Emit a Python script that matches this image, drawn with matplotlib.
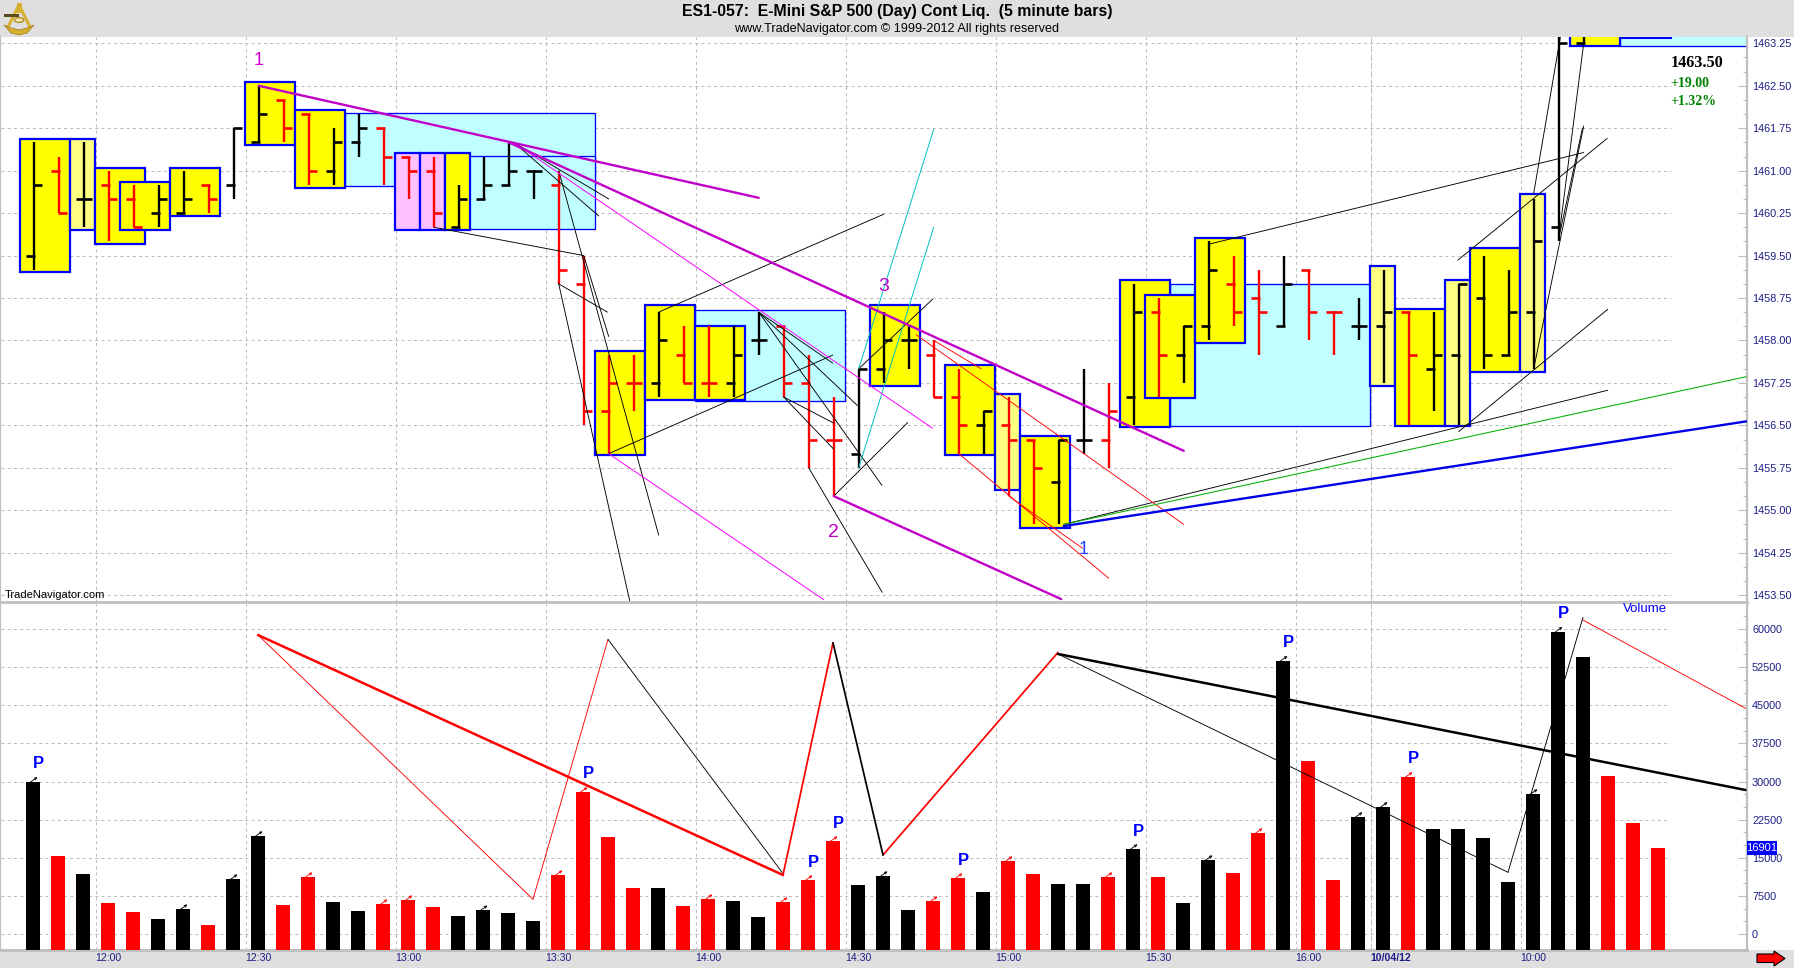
import matplotlib
matplotlib.use('Agg')
import matplotlib.pyplot as plt
from matplotlib.lines import Line2D
from matplotlib.patches import Rectangle, Polygon, Circle

plt.rcParams['font.family'] = ['Liberation Sans', 'DejaVu Sans']

W, H = 1794, 968

# 5 minute bars, the last ones run off the top of the chart
bar_high = [1461.5, 1461.25, 1461.5, 1461.0, 1460.75, 1460.75, 1461.0, 1460.75, 1461.75, 1462.5,
            1462.25, 1462.0, 1461.75, 1462.0, 1461.75, 1461.25, 1461.25, 1460.75, 1461.25, 1461.5,
            1461.0, 1461.0, 1459.5, 1457.75, 1457.75, 1458.5, 1458.25, 1458.25, 1458.25, 1458.5,
            1458.25, 1457.75, 1457.0, 1457.5, 1458.5, 1458.25, 1458.0, 1457.5, 1456.75, 1457.0,
            1456.25, 1456.25, 1457.5, 1457.25, 1459.0, 1458.75, 1458.25, 1459.75, 1459.5, 1459.25,
            1459.5, 1459.25, 1458.5, 1458.75, 1459.25, 1458.5, 1458.5, 1459.0, 1459.5, 1459.25,
            1460.5, 1464.0, 1463.75]
bar_low = [1459.25, 1460.25, 1460.0, 1459.75, 1460.0, 1460.0, 1460.25, 1460.25, 1460.5, 1461.5,
           1461.5, 1460.75, 1460.75, 1461.25, 1460.75, 1460.5, 1460.0, 1460.0, 1460.5, 1460.75,
           1460.5, 1459.0, 1456.5, 1456.0, 1456.75, 1457.0, 1457.25, 1457.0, 1457.0, 1457.75,
           1457.0, 1455.75, 1455.25, 1455.75, 1457.25, 1457.5, 1457.0, 1456.0, 1456.0, 1455.25,
           1454.75, 1454.75, 1456.0, 1455.75, 1456.5, 1457.0, 1457.25, 1458.0, 1458.25, 1457.75,
           1458.25, 1458.0, 1457.75, 1458.0, 1457.25, 1456.5, 1456.75, 1456.5, 1457.5, 1457.75,
           1457.5, 1459.75, 1463.25]
bar_open = [1459.5, 1461.0, 1460.5, 1460.75, 1460.5, 1460.25, 1460.25, 1460.75, 1460.75, 1461.5,
            1462.25, 1462.0, 1461.0, 1461.5, 1461.75, 1461.25, 1461.0, 1460.0, 1460.5, 1460.75,
            1461.0, 1460.75, 1459.0, 1456.75, 1457.25, 1457.25, 1457.75, 1457.25, 1457.25, 1458.0,
            1458.25, 1457.25, 1456.25, 1456.0, 1457.5, 1458.0, 1457.75, 1457.0, 1456.5, 1456.5,
            1456.25, 1455.5, 1456.25, 1456.25, 1457.0, 1458.5, 1457.75, 1458.25, 1459.0, 1458.75,
            1458.25, 1459.25, 1458.5, 1458.25, 1458.25, 1458.5, 1457.5, 1457.75, 1458.75, 1457.75,
            1458.5, 1460.0, 1463.25]
bar_close = [1460.75, 1460.25, 1460.5, 1460.5, 1460.0, 1460.5, 1460.5, 1460.5, 1461.75, 1462.0,
             1461.75, 1461.0, 1461.5, 1461.75, 1461.25, 1461.0, 1460.25, 1460.5, 1460.75, 1461.0,
             1461.0, 1459.25, 1456.75, 1457.25, 1457.25, 1458.0, 1457.25, 1457.25, 1457.75, 1458.0,
             1457.25, 1456.25, 1456.25, 1457.5, 1458.0, 1458.0, 1457.0, 1456.5, 1456.75, 1456.25,
             1455.75, 1456.25, 1456.25, 1456.75, 1458.5, 1457.75, 1458.25, 1459.25, 1458.5, 1458.5,
             1459.0, 1458.5, 1458.5, 1458.25, 1458.5, 1457.75, 1457.75, 1459.0, 1457.75, 1458.5,
             1459.75, 1463.25, 1463.5]

# volume has three more bars than can be seen in the price panel
volume = [29900, 15300, 11760, 6040, 4270, 2890, 4860, 1710, 10770, 19250, 5650, 11170, 6240, 4470,
          5850, 6640, 5260, 3480, 4660, 4070, 2500, 11560, 27920, 19050, 9000, 9000, 5450, 6830,
          6440, 3280, 6240, 10580, 18260, 9590, 11370, 4660, 6440, 10970, 8210, 14320, 11760, 9790,
          9790, 11170, 16690, 11170, 6040, 14520, 11960, 19840, 53740, 34030, 10580, 22990, 24970,
          30880, 20630, 20630, 18860, 10180, 27530, 59460, 54530, 31080, 21810, 16901]
bar_colors = list('krkrrkkrkkrrkkrrrkkkkrrrrkrrkkrrrkkkrrkrrkkrkrkkrrkrrkkrkkkkkkkrrr')

peak_bars = [0, 22, 31, 32, 37, 44, 50, 55, 61]
arrow_bars = [0, 6, 8, 9, 11, 14, 15, 18, 21, 22, 27, 30, 31, 32, 34, 36, 37, 39, 43, 44, 47, 49,
              50, 53, 54, 55, 60, 61]

# boxes: left, right, top, bottom, fill code
cyan = '#C0FFFF'
box_left = [12.45, 14.45, 26.45, 45.45, 63.45, -0.55, 1.45, 2.45, 3.45, 5.45, 8.45, 10.45, 14.45, 15.45,
            16.45, 22.45, 24.45, 26.45, 33.45, 36.45, 38.45, 39.45, 43.45, 44.45, 46.45, 53.45,
            54.45, 56.45, 57.45, 59.45, 61.45]
box_right = [22.45, 22.45, 32.45, 53.45, 72.0, 1.45, 2.45, 4.45, 5.45, 7.45, 10.45, 12.45, 15.45, 16.45,
             17.45, 24.45, 26.45, 28.45, 35.45, 38.45, 39.45, 41.45, 45.45, 46.45, 48.45, 54.45,
             56.45, 57.45, 59.45, 60.45, 63.45]
box_top = [1462.02, 1461.25, 1458.54, 1459.0, 1464.0, 1461.56, 1461.56, 1461.05, 1460.8, 1461.05, 1462.57,
           1462.07, 1461.31, 1461.31, 1461.31, 1457.81, 1458.62, 1458.26, 1458.62, 1457.57, 1457.06,
           1456.31, 1459.06, 1458.8, 1459.81, 1459.32, 1458.56, 1459.06, 1459.63, 1460.58, 1464.0]
box_bottom = [1460.72, 1459.97, 1456.93, 1456.49, 1463.2, 1459.21, 1459.95, 1459.7, 1459.95, 1460.2, 1461.45,
              1460.7, 1459.95, 1459.95, 1459.95, 1455.97, 1456.95, 1456.95, 1457.2, 1455.97, 1455.35,
              1454.68, 1456.47, 1456.98, 1457.96, 1457.2, 1456.49, 1456.49, 1457.45, 1457.45, 1463.2]
box_fill = ['c', 'c', 'c', 'c', 'c', 'y', 'p', 'y', 'y', 'y', 'y', 'y', 'm', 'm', 'y', 'y', 'y', 'y', 'y',
            'y', 'p', 'y', 'y', 'y', 'y', 'p', 'y', 'p', 'y', 'p', 'y']
fill_colors = {'c': cyan, 'y': '#FFFF00', 'p': '#FFFF80', 'm': '#FFC0FF'}

# trend lines in the price panel: bar, price, bar, price
purple_lines = [(9, 1462.5, 29, 1460.52), (19, 1461.5, 46, 1456.05), (32, 1455.25, 41.1, 1453.43)]
magenta_lines = [(19.2, 1461.5, 35.95, 1456.45), (23, 1456.0, 31.6, 1453.42)]
cyan_lines = [(33, 1455.75, 36, 1460.0), (33, 1457.5, 36, 1461.73)]
red_lines = [(35.3, 1458.1, 46, 1454.75), (36, 1458.0, 37.9, 1457.5), (37, 1456.0, 43, 1453.8),
             (39, 1455.25, 41.95, 1454.33)]
black_lines = [(19.2, 1461.5, 23, 1460.5), (19.2, 1461.5, 22.6, 1460.2), (21, 1461.0, 25, 1454.56),
               (21, 1459.0, 22.95, 1458.5), (21, 1459.0, 23.84, 1453.4), (22, 1459.5, 23, 1458.07),
               (16, 1460.0, 22, 1459.5), (23, 1456.0, 31.96, 1457.74), (25, 1458.5, 34, 1460.23),
               (29, 1458.5, 31.96, 1457.6), (29, 1458.5, 32.95, 1456.85), (29, 1458.5, 33.93, 1455.44),
               (30, 1457.0, 32, 1456.54), (30, 1457.0, 32, 1456.08), (31, 1455.75, 33.94, 1453.55),
               (32, 1455.25, 34.96, 1456.55), (33, 1457.5, 35.96, 1458.73),
               (41.2, 1454.75, 62.96, 1457.12), (57, 1456.39, 62.96, 1458.55), (47, 1459.7, 62, 1461.32),
               (56.97, 1459.42, 62.94, 1461.57), (60, 1457.5, 62, 1461.79), (60, 1460.6, 61.1, 1463.45),
               (61, 1459.8, 62, 1463.25), (61, 1459.8, 61.95, 1461.75)]
blue_line = (41.2, 1454.72, 68.5, 1456.57)
green_line = (41.2, 1454.75, 68.5, 1457.36)

# zigzags in the volume panel
vol_red_thick = [(9, 58820, 30, 11600)]
vol_black_thick = [(41, 55090, 68.5, 28330)]
vol_red_mid = [(30, 11600, 32, 57300), (34, 15540, 41, 55400)]
vol_black_mid = [(32, 57300, 34, 15540)]
vol_red_thin = [(9, 58820, 20, 6830), (20, 6830, 23, 57960), (62, 61770, 68.5, 44400)]
vol_black_thin = [(23, 57960, 30, 11900), (41, 55090, 59, 12140), (59, 12140, 62, 62300)]

time_ticks = [2.5, 8.5, 14.5, 20.5, 26.5, 32.5, 38.5, 44.5, 50.5, 53.5, 59.5]
time_labels = ['12:00', '12:30', '13:00', '13:30', '14:00', '14:30', '15:00', '15:30', '16:00',
               '10/04/12', '10:00']
price_ticks = [1453.5 + 0.75 * n for n in range(14)]
price_minor = [1453.5 + 0.25 * n for n in range(40)]
vol_ticks = [7500 * n for n in range(9)]
vol_minor = [2500 * n for n in range(26)]

axis_blue = '#1C1C86'
grid_gray = '#BEBEBE'
purple = '#C000C8'
GRID_END = 65.48


def fx(px):
    return px / W


def fy(py):
    return 1 - py / H


def panel(top, bottom):
    return [0, 1 - bottom / H, 1746.5 / W, (bottom - top) / H]


def draw_segments(ax, segs, color, lw):
    for x0, y0, x1, y1 in segs:
        ax.plot([x0, x1], [y0, y1], color=color, lw=lw, zorder=5, solid_capstyle='round')


fig = plt.figure(figsize=(W / 100, H / 100), dpi=100, facecolor='white')

# header and footer strips, kept behind the axes so the time labels stay visible
fig.add_artist(Rectangle((0, fy(37)), 1, 37 / H, transform=fig.transFigure, color='#DFDFDF', lw=0, zorder=-1))
fig.add_artist(Rectangle((0, 0), 1, (H - 950) / H, transform=fig.transFigure, color='#DFDFDF', lw=0, zorder=-1))

ax = fig.add_axes(panel(37, 602))
ax2 = fig.add_axes(panel(604, 950))
ax.set_xlim(-33.7 / 25, (1746.5 - 33.7) / 25)
ax.set_ylim(1463.25 - (602 - 43.3) / 56.6, 1463.25 + (43.3 - 37) / 56.6)
ax2.set_xlim(-33 / 25, (1746.5 - 33) / 25)
ax2.set_ylim(-3148, 64923)

for a in (ax, ax2):
    a.set_facecolor('white')
    for side in ('top', 'left', 'right', 'bottom'):
        a.spines[side].set_color('#C0C0C0')
        a.spines[side].set_linewidth(1.6)
    a.spines['top'].set_visible(False)
    a.yaxis.tick_right()
    a.tick_params(axis='y', which='major', direction='in', length=6.5, width=0.8, color=grid_gray,
                  labelcolor=axis_blue, labelsize=7.8, pad=4)
    a.tick_params(axis='y', which='minor', direction='in', length=3, width=0.8, color=grid_gray)
    for t in time_ticks:
        dash = (0, (6, 2)) if t == 53.5 else (0, (3, 3))
        a.axvline(t, color=grid_gray, lw=0.75, ls=dash, zorder=0.5)

ax.spines['bottom'].set_linewidth(2)
ax.set_xticks([])
ax.set_yticks(price_ticks, ['%.2f' % p for p in price_ticks])
ax.set_yticks(price_minor, minor=True)
ax.hlines(price_ticks, -1.3, GRID_END, color=grid_gray, lw=0.75, linestyles=(0, (3, 3)), zorder=0.5)

ax2.spines['bottom'].set_linewidth(2.2)
ax2.set_yticks(vol_ticks, [str(v) for v in vol_ticks])
ax2.set_yticks(vol_minor, minor=True)
ax2.hlines(vol_ticks, -1.3, GRID_END, color=grid_gray, lw=0.75, linestyles=(0, (3, 3)), zorder=0.5)
ax2.set_xticks(time_ticks, time_labels, ha='left')
ax2.tick_params(axis='x', length=0, labelcolor=axis_blue, labelsize=7.6, pad=2)
ax2.get_xticklabels()[9].set_fontweight('bold')

# boxes behind the bars
for x0, x1, top, bot, code in zip(box_left, box_right, box_top, box_bottom, box_fill):
    lw = 0.95 if code == 'c' else 1.6
    ax.add_patch(Rectangle((x0, bot), x1 - x0, top - bot, facecolor=fill_colors[code],
                           edgecolor='#0000FF', lw=lw, zorder=2, joinstyle='miter'))
ax.plot([63.45, GRID_END], [1463.34, 1463.34], color='#0000FF', lw=1.5, zorder=2)

# price bars
for i in range(len(bar_high)):
    c = 'red' if bar_colors[i] == 'r' else 'black'
    ax.plot([i, i], [bar_low[i], bar_high[i]], color=c, lw=1.7, solid_capstyle='butt', zorder=3)
    ax.plot([i - 0.32, i + 0.04], [bar_open[i], bar_open[i]], color=c, lw=1.9, solid_capstyle='butt', zorder=3)
    ax.plot([i - 0.04, i + 0.32], [bar_close[i], bar_close[i]], color=c, lw=1.9, solid_capstyle='butt', zorder=3)

draw_segments(ax, black_lines, 'black', 0.65)
draw_segments(ax, red_lines, 'red', 0.65)
draw_segments(ax, cyan_lines, '#00C0C0', 0.7)
draw_segments(ax, magenta_lines, '#FF00FF', 0.7)
draw_segments(ax, [green_line], '#00B000', 0.75)
draw_segments(ax, purple_lines, purple, 1.7)
draw_segments(ax, [blue_line], '#0000E8', 1.7)

ax.text(9, 1462.95, '1', color='#D000D0', fontsize=13, ha='center', va='center', zorder=6)
ax.text(32, 1454.6, '2', color=purple, fontsize=14, ha='center', va='center', zorder=6)
ax.text(34, 1458.95, '3', color=purple, fontsize=14, ha='center', va='center', zorder=6)
ax.text(42, 1454.31, '1', color='#2040FF', fontsize=13, ha='center', va='center', zorder=6)
ax.text(0.003, 0.012, 'TradeNavigator.com', transform=ax.transAxes, fontsize=8, color='black',
        ha='left', va='center')

ax.text(1670.5 / W, fy(63), '1463.50', transform=fig.transFigure, family='Liberation Serif',
        fontweight='bold', fontsize=11.7, color='black', va='center')
ax.text(1670 / W, fy(83.5), '+19.00', transform=fig.transFigure, family='Liberation Serif',
        fontweight='bold', fontsize=10, color='#008000', va='center')
ax.text(1670 / W, fy(101.5), '+1.32%', transform=fig.transFigure, family='Liberation Serif',
        fontweight='bold', fontsize=10, color='#008000', va='center')

# volume bars
vol_colors = ['red' if c == 'r' else 'black' for c in bar_colors]
ax2.bar(range(len(volume)), [v + 3148 for v in volume], width=0.56, bottom=-3148, color=vol_colors,
        zorder=3)

for i in arrow_bars:
    ax2.annotate('', xy=(i + 0.18, volume[i] + 950), xytext=(i - 0.1, volume[i]),
                 arrowprops=dict(arrowstyle='->', color=vol_colors[i], lw=0.65, mutation_scale=4,
                                 shrinkA=0, shrinkB=0), zorder=4)
for i in peak_bars:
    ax2.text(i + 0.21, volume[i] + 3560, 'P', color='#0000FF', fontsize=12, fontweight='bold',
             ha='center', va='center', zorder=6)

draw_segments(ax2, vol_red_thin, 'red', 0.65)
draw_segments(ax2, vol_black_thin, 'black', 0.65)
draw_segments(ax2, vol_red_mid, 'red', 1.25)
draw_segments(ax2, vol_black_mid, 'black', 1.25)
draw_segments(ax2, vol_red_thick, 'red', 1.8)
draw_segments(ax2, vol_black_thick, 'black', 1.8)

ax2.text(1623 / W, fy(609), 'Volume', transform=fig.transFigure, color='#0000FF', fontsize=9.5, va='center')

# last volume tag on the scale
fig.add_artist(Rectangle((fx(1747), fy(855)), 29.5 / W, 14.3 / H, transform=fig.transFigure,
                         color='#0000FF', lw=0, zorder=8))
fig.text(fx(1761.8), fy(848), '16901', color='white', fontsize=8, ha='center', va='center', zorder=9)

# titles
fig.text(fx(897), fy(11.5), 'ES1-057:  E-Mini S&P 500 (Day) Cont Liq.  (5 minute bars)',
         fontsize=11.45, fontweight='bold', color='black', ha='center', va='center')
fig.text(fx(897), fy(29), 'www.TradeNavigator.com \u00a9 1999-2012 All rights reserved',
         fontsize=9.1, color='black', ha='center', va='center')

# red arrow at bottom right
arrow = [(1757, 954), (1774, 954), (1774, 951), (1785, 958.5), (1774, 966), (1774, 962.5), (1757, 962.5)]
fig.add_artist(Polygon([(fx(x), fy(y)) for x, y in arrow], transform=fig.transFigure,
                       facecolor='red', edgecolor='black', lw=0.8, zorder=8))

# sextant logo, just roughly
gold = '#D8B030'
for (x0, y0), (x1, y1), lw_px in [((19, 5), (8, 27), 2.2), ((19, 5), (30, 27), 2.2), ((19, 5), (19, 10), 3.5)]:
    fig.add_artist(Line2D([fx(x0), fx(x1)], [fy(y0), fy(y1)], color=gold, lw=lw_px, zorder=8))
arc_outer = [(4, 25), (11, 33), (19, 35), (27, 33), (34, 25), (27, 28), (19, 30), (11, 28)]
fig.add_artist(Polygon([(fx(x), fy(y)) for x, y in arc_outer], transform=fig.transFigure,
                       facecolor=gold, edgecolor='#9A7A18', lw=0.5, zorder=8))
fig.add_artist(Circle((fx(19), fy(20)), 4.5 / W, transform=fig.transFigure, facecolor='#F0E8B0',
                      edgecolor='#B09020', lw=1.0, zorder=8))
fig.add_artist(Rectangle((fx(4), fy(17)), 15 / W, 3 / H, transform=fig.transFigure, color='#5A4A20', lw=0, zorder=9))

fig.savefig('out.png', dpi=100)
